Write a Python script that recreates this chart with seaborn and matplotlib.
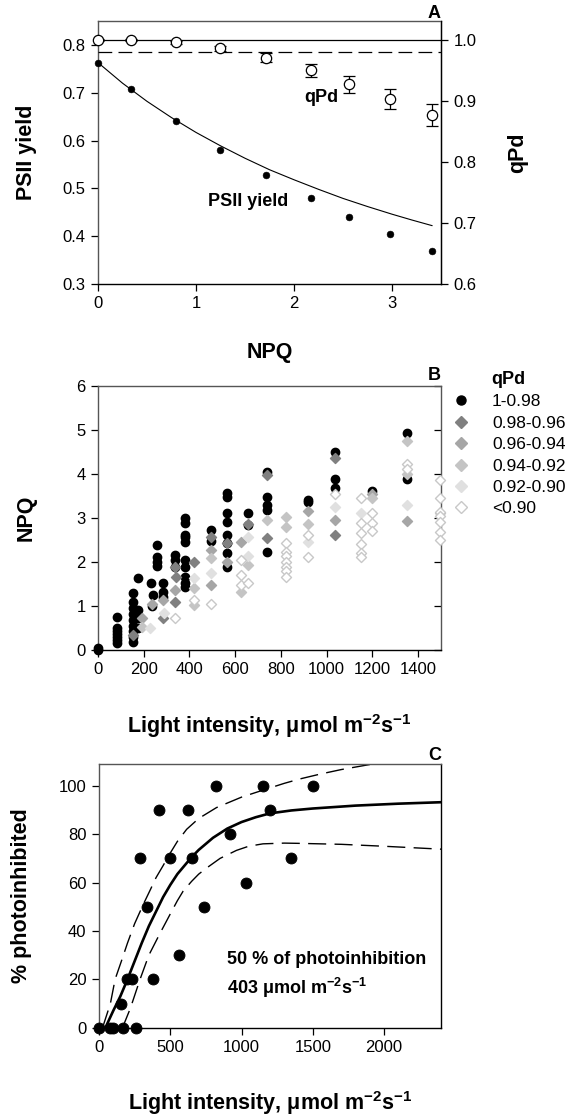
import numpy as np
import pandas as pd
import matplotlib
matplotlib.use('Agg')
import matplotlib.pyplot as plt
from matplotlib.lines import Line2D
import seaborn as sns

sns.set_style('ticks')
plt.rcParams['font.family'] = ['Liberation Sans', 'DejaVu Sans']
plt.rcParams['mathtext.fontset'] = 'custom'
plt.rcParams['mathtext.rm'] = 'Liberation Sans'
plt.rcParams['mathtext.bf'] = 'Liberation Sans:bold'
for k in ['text.color', 'axes.labelcolor', 'xtick.color', 'ytick.color']:
    plt.rcParams[k] = 'black'

# ---- panel A data ----
npq_a = [0, 0.34, 0.80, 1.245, 1.71, 2.17, 2.56, 2.98, 3.41]
psii_yield = [0.763, 0.708, 0.641, 0.580, 0.528, 0.479, 0.440, 0.404, 0.370]
qpd = [1.0, 1.0, 0.996, 0.986, 0.971, 0.950, 0.927, 0.903, 0.877]
qpd_err = [0.002, 0.002, 0.003, 0.004, 0.008, 0.010, 0.014, 0.016, 0.0175]
curve_npq = [0, 0.25, 0.5, 0.75, 1.0, 1.25, 1.5, 1.75, 2.0, 2.25, 2.5, 2.75, 3.0, 3.2, 3.41]
curve_yield = [0.763, 0.720, 0.682, 0.648, 0.617, 0.589, 0.563, 0.539, 0.518, 0.498,
               0.479, 0.462, 0.446, 0.434, 0.422]
qpd_ref_solid = 1.0
qpd_ref_dash = 0.98

# ---- panel B data (light, NPQ) per qPd class ----
light_c1 = [0, 0, 82, 82, 82, 82, 82, 82, 82, 155, 155, 155, 155, 155, 155, 155, 155, 155,
            175, 175, 175, 175, 230, 234, 242, 256, 256, 256, 256, 285, 285, 285,
            336, 336, 336, 380, 380, 380, 380, 380, 380, 380, 380, 380, 380,
            496, 496, 565, 565, 565, 565, 565, 565, 565, 565, 656, 656,
            739, 739, 739, 739, 739, 918, 918, 1035, 1035, 1035, 1200, 1351, 1351]
npq_c1 = [0, 0.03, 0.15, 0.22, 0.28, 0.35, 0.42, 0.5, 0.75, 0.18, 0.3, 0.42, 0.55, 0.68, 0.82,
          0.95, 1.09, 1.28, 0.5, 0.72, 0.9, 1.62, 1.51, 1.0, 1.24, 1.9, 2.0, 2.1, 2.38, 1.32, 1.51, 1.2,
          1.89, 2.04, 2.15, 1.43, 1.51, 1.66, 1.89, 2.04, 2.45, 2.57, 2.6, 2.87, 3.0,
          2.46, 2.72, 1.89, 2.2, 2.42, 2.61, 2.91, 3.1, 3.48, 3.57, 2.83, 3.1,
          2.22, 3.17, 3.3, 3.48, 4.05, 3.35, 3.4, 3.67, 3.87, 4.5, 3.6, 3.87, 4.93]

light_c2 = [154, 285, 336, 336, 343, 419, 496, 565, 656, 739, 739, 1035, 1035]
npq_c2 = [0.33, 0.72, 1.09, 1.89, 1.66, 2.0, 2.57, 2.42, 2.85, 3.98, 2.55, 4.35, 2.6]

light_c3 = [191, 234, 285, 336, 496, 496, 565, 627, 918, 1035, 1200, 1351]
npq_c3 = [0.71, 1.05, 1.13, 1.36, 2.27, 1.47, 2.0, 2.45, 3.15, 2.94, 3.55, 2.93]

light_c4 = [191, 419, 419, 496, 627, 656, 739, 821, 821, 918, 1200, 1351, 1351, 1494]
npq_c4 = [0.52, 1.4, 1.02, 2.08, 1.32, 1.93, 2.94, 3.02, 2.8, 2.85, 3.45, 4.74, 4.0, 3.1]

light_c5 = [227, 288, 419, 496, 656, 656, 918, 1035, 1151, 1351]
npq_c5 = [0.49, 0.83, 1.62, 1.74, 2.57, 2.12, 2.45, 3.24, 3.1, 3.3]

light_c6 = [336, 419, 496, 627, 627, 627, 656, 821, 821, 821, 821, 821, 821, 821, 918, 918,
            1035, 1151, 1151, 1151, 1151, 1151, 1151, 1200, 1200, 1200, 1351, 1351,
            1494, 1494, 1494, 1494, 1494, 1494, 1494]
npq_c6 = [0.71, 1.13, 1.05, 2.04, 1.7, 1.47, 1.51, 2.43, 2.23, 2.12, 2.0, 1.89, 1.78, 1.66, 2.6, 2.1,
          3.55, 3.44, 2.88, 2.66, 2.4, 2.2, 2.1, 3.1, 2.88, 2.7, 4.23, 4.1,
          3.86, 3.44, 3.14, 3.03, 2.9, 2.68, 2.5]

class_labels = ['1-0.98', '0.98-0.96', '0.96-0.94', '0.94-0.92', '0.92-0.90', '<0.90']

# ---- panel C data ----
light_ph = [0, 75, 100, 170, 260, 155, 195, 230, 380, 560, 335, 735, 1035,
            285, 500, 655, 1350, 920, 420, 625, 1200, 820, 1150, 1500]
photoinhib = [0, 0, 0, 0, 0, 10, 20, 20, 20, 30, 50, 50, 60,
              70, 70, 70, 70, 80, 90, 90, 90, 100, 100, 100]
fit_light = [45, 100, 150, 200, 250, 300, 350, 400, 450, 500, 550, 600, 650, 700, 750, 800,
             900, 1000, 1100, 1200, 1350, 1500, 1800, 2100, 2400]
fit_mid = [0, 7, 13, 20, 27.5, 35, 42, 48, 54, 59, 63.5, 67, 70.5, 73.5, 76, 78.5,
           82.3, 85, 87, 88.6, 89.8, 90.6, 91.8, 92.6, 93.2]
upper_light = [25, 80, 113, 160, 200, 250, 311, 360, 400, 450, 498, 550, 615, 700, 825,
               1000, 1151, 1300, 1408, 1550, 1700, 1921]
upper_ci = [0, 10, 20, 28, 35, 43, 51, 57, 62, 67, 72, 77, 82, 86.5, 91,
            95.3, 98.2, 101, 102.8, 104.8, 106.7, 109]
lower_light = [165, 220, 288, 350, 428, 500, 550, 591, 650, 700, 755, 850, 965, 1050, 1151,
               1300, 1400, 1700, 2000, 2400]
lower_ci = [0, 8, 20, 30, 39, 47, 52.5, 56.5, 60.5, 63.5, 66, 70, 73.3, 75, 76,
            76.3, 76.2, 75.8, 75, 73.8]

W, H = 573, 1119
fig = plt.figure(figsize=(W / 100, H / 100), dpi=100)

TICK = 12
LAB = 15.5
NOTE = 13
frame_gray = '#555555'


def style_axes(ax):
    for s in ['left', 'top']:
        ax.spines[s].set_color(frame_gray)
    for s in ['bottom', 'right']:
        ax.spines[s].set_color('black')
    for s in ax.spines.values():
        s.set_linewidth(1.0)
    ax.tick_params(direction='out', length=5, width=0.9, labelsize=TICK, pad=4)


# ================= Panel A =================
axA = fig.add_axes([98 / W, 1 - 284 / H, 343 / W, 263 / H])
style_axes(axA)
axA2 = axA.twinx()
axA2.spines['right'].set_color('black')
axA2.spines['top'].set_visible(False)
axA2.spines['left'].set_visible(False)
axA2.spines['bottom'].set_visible(False)

sns.lineplot(x=curve_npq, y=curve_yield, ax=axA, color='black', linewidth=0.8, zorder=2)
sns.scatterplot(x=npq_a, y=psii_yield, ax=axA, color='black', s=24, edgecolor='black',
                zorder=3, clip_on=False)

axA2.axhline(qpd_ref_solid, color='black', lw=0.9)
axA2.axhline(qpd_ref_dash, color='black', lw=0.9, dashes=(11, 5))
axA2.errorbar(npq_a, qpd, yerr=qpd_err, fmt='none', ecolor='black', elinewidth=0.9,
              capsize=4.5, capthick=0.9, zorder=3)
sns.scatterplot(x=npq_a, y=qpd, ax=axA2, color='white', edgecolor='black', linewidth=0.9,
                s=55, zorder=4, clip_on=False)

axA.set_xlim(0, 3.5)
axA.set_ylim(0.3, 0.85)
axA.set_xticks([0, 1, 2, 3])
axA.set_yticks([0.3, 0.4, 0.5, 0.6, 0.7, 0.8])
axA.set_yticklabels(['0.3', '0.4', '0.5', '0.6', '0.7', '0.8'])
axA2.set_ylim(0.6, 1.031)
axA2.set_yticks([0.6, 0.7, 0.8, 0.9, 1.0])
axA2.set_yticklabels(['0.6', '0.7', '0.8', '0.9', '1.0'])
axA2.tick_params(direction='out', length=5, width=0.9, labelsize=TICK, pad=4)

axA.set_xlabel('NPQ', fontsize=LAB, fontweight='bold')
axA.xaxis.set_label_coords(0.5, -0.22)
axA.set_ylabel('PSII yield', fontsize=LAB, fontweight='bold')
axA.yaxis.set_label_coords(-0.178, 0.5)
axA2.set_ylabel('qPd', fontsize=LAB, fontweight='bold')
axA2.yaxis.set_label_coords(1.192, 0.5)

fig.text(248 / W, 1 - 202 / H, 'PSII yield', fontsize=NOTE, fontweight='bold',
         ha='center', va='center')
fig.text(321 / W, 1 - 98 / H, 'qPd', fontsize=NOTE, fontweight='bold',
         ha='center', va='center')
fig.text(441 / W, 1 - 13 / H, 'A', fontsize=NOTE, fontweight='bold', ha='right', va='center')

# ================= Panel B =================
axB = fig.add_axes([98 / W, 1 - 649.7 / H, 343 / W, 264 / H])
style_axes(axB)
axB.spines['right'].set_color(frame_gray)

b_sets = [
    (light_c1, npq_c1, 'o', 'black', 'black', 36),
    (light_c2, npq_c2, 'D', '#808080', '#808080', 26),
    (light_c3, npq_c3, 'D', '#a6a6a6', '#a6a6a6', 26),
    (light_c4, npq_c4, 'D', '#c4c4c4', '#c4c4c4', 26),
    (light_c5, npq_c5, 'D', '#e0e0e0', '#e0e0e0', 26),
    (light_c6, npq_c6, 'D', 'white', '#c8c8c8', 26),
]
handles = []
for (lx, ny, mk, fc, ec, sz), lab in zip(b_sets, class_labels):
    df = pd.DataFrame({'light': lx, 'npq': ny})
    sns.scatterplot(data=df, x='light', y='npq', ax=axB, marker=mk, color=fc,
                    edgecolor=ec, linewidth=1.0, s=sz, clip_on=False, zorder=3)
    handles.append(Line2D([], [], ls='none', marker=mk, markersize=6.5 if mk == 'o' else 5.8,
                          markerfacecolor=fc, markeredgecolor=ec, markeredgewidth=1.0, label=lab))

axB.set_xlim(0, 1500)
axB.set_ylim(0, 6)
axB.set_xticks(range(0, 1401, 200))
axB.set_yticks(range(0, 7))
axB.tick_params(axis='y', right=True, labelright=False)
for t in axB.yaxis.get_major_ticks():
    t.tick2line.set_marker(matplotlib.lines.TICKLEFT)
axB.set_xlabel(r'Light intensity, μmol m$^{\mathbf{-2}}$s$^{\mathbf{-1}}$', fontsize=LAB,
               fontweight='bold')
axB.xaxis.set_label_coords(0.5, -0.235)
axB.set_ylabel('NPQ', fontsize=LAB, fontweight='bold')
axB.yaxis.set_label_coords(-0.178, 0.5)

leg = axB.legend(handles=handles, title='qPd', loc='upper left',
                 bbox_to_anchor=(452 / W, 1 - 371 / H), bbox_transform=fig.transFigure,
                 frameon=False, fontsize=12.5, handlelength=1.0, handletextpad=1.3,
                 labelspacing=0.36, borderaxespad=0, borderpad=0)
leg.get_title().set_fontweight('bold')
leg.get_title().set_fontsize(NOTE)
fig.text(441 / W, 1 - 375 / H, 'B', fontsize=NOTE, fontweight='bold', ha='right', va='center')

# ================= Panel C =================
axC = fig.add_axes([99 / W, 1 - 1027.7 / H, 342 / W, 263.7 / H])
style_axes(axC)
axC.tick_params(axis='y', right=False)

sns.lineplot(x=upper_light, y=upper_ci, ax=axC, color='black', linewidth=1.0,
             zorder=2).lines[-1].set_dashes((13, 6))
sns.lineplot(x=lower_light, y=lower_ci, ax=axC, color='black', linewidth=1.0,
             zorder=2).lines[-1].set_dashes((13, 6))
sns.lineplot(x=fit_light, y=fit_mid, ax=axC, color='black', linewidth=1.9, zorder=2)
sns.scatterplot(x=light_ph, y=photoinhib, ax=axC, color='black', edgecolor='black',
                s=62, zorder=3, clip_on=False)

axC.set_xlim(0, 2400)
axC.set_ylim(0, 109)
axC.set_xticks([0, 500, 1000, 1500, 2000])
axC.set_yticks([0, 20, 40, 60, 80, 100])
axC.set_xlabel(r'Light intensity, μmol m$^{\mathbf{-2}}$s$^{\mathbf{-1}}$', fontsize=LAB,
               fontweight='bold')
axC.xaxis.set_label_coords(0.5, -0.232)
axC.set_ylabel('% photoinhibited', fontsize=LAB, fontweight='bold')
axC.yaxis.set_label_coords(-0.196, 0.5)

fig.text(227 / W, 1 - 959 / H, '50 % of photoinhibition', fontsize=NOTE, fontweight='bold',
         ha='left', va='center')
fig.text(227 / W, 1 - 988 / H, r'403 μmol m$^{\mathbf{-2}}$s$^{\mathbf{-1}}$', fontsize=NOTE,
         fontweight='bold', ha='left', va='center')
fig.text(441 / W, 1 - 755 / H, 'C', fontsize=NOTE, fontweight='bold', ha='right', va='center')

fig.savefig('out.png', dpi=100)
